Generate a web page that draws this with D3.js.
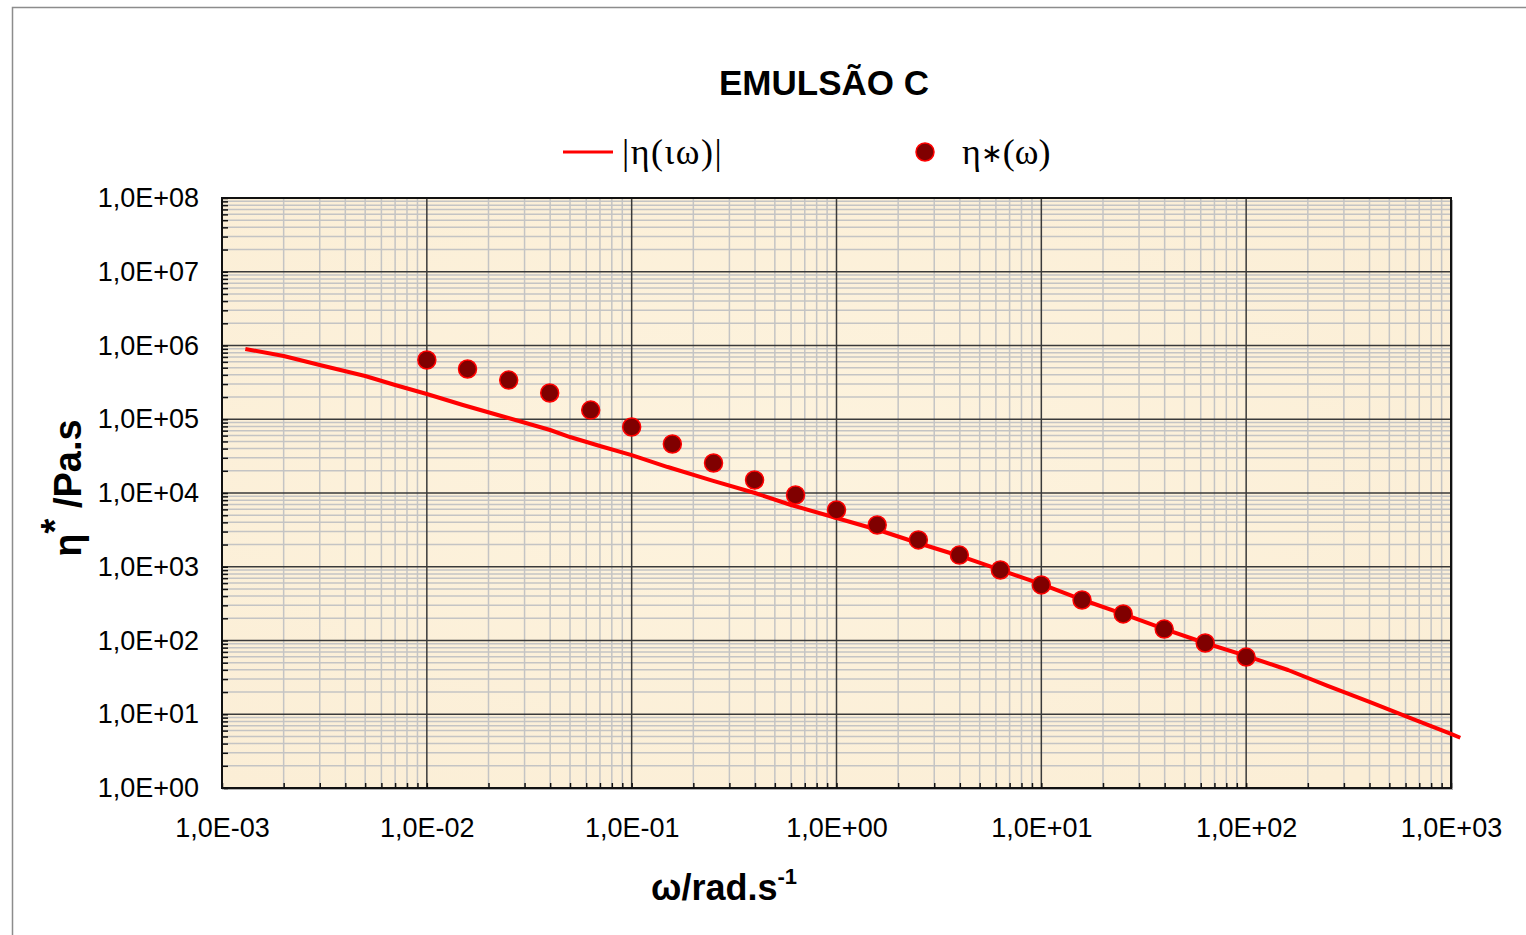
<!DOCTYPE html>
<html>
<head>
<meta charset="utf-8">
<script src="https://cdnjs.cloudflare.com/ajax/libs/d3/7.8.5/d3.min.js"></script>
<style>
  body { margin: 0; background: #fff; }
  svg { display: block; }
</style>
</head>
<body>
<svg id="chart" width="1526" height="935"></svg>
<script>
// |eta(i omega)| curve
var lineW = [0.0013, 0.002, 0.003, 0.005, 0.007, 0.01, 0.015, 0.025, 0.04, 0.05, 0.07, 0.1,
             0.15, 0.25, 0.4, 0.6, 1, 1.6, 2.5, 4, 6.3, 10, 16, 25, 40, 63, 100, 160, 250, 400,
             630, 1000, 1110];
var lineEta = [8.97e5, 7.2e5, 5.45e5, 3.86e5, 2.91e5, 2.2e5, 1.56e5, 1.04e5, 7.15e4, 5.74e4,
               4.34e4, 3.27e4, 2.25e4, 1.46e4, 1.0e4, 6.88e3, 4.58e3, 3.15e3, 2.1e3, 1.4e3,
               904, 583, 354, 229, 143, 92.5, 61.7, 39.8, 24.2, 14.7, 8.9, 5.4, 4.8];

// eta*(omega) measured points
var pointW = [0.01, 0.0158, 0.0251, 0.0398, 0.0631, 0.1, 0.158, 0.251, 0.398, 0.631, 1,
              1.58, 2.51, 3.98, 6.31, 10, 15.8, 25.1, 39.8, 63.1, 100];
var pointEta = [6.36e5, 4.8e5, 3.4e5, 2.27e5, 1.33e5, 7.85e4, 4.62e4, 2.55e4, 1.5e4, 9.4e3,
                5.88e3, 3.68e3, 2.31e3, 1.44e3, 904, 566, 354, 229, 143, 92.5, 59.7];

var xDecades = [1e-3, 1e-2, 1e-1, 1e0, 1e1, 1e2, 1e3];
var yDecades = [1e0, 1e1, 1e2, 1e3, 1e4, 1e5, 1e6, 1e7, 1e8];

var svg = d3.select("#chart");

var pLeft = 222, pRight = 1451, pTop = 198, pBottom = 788;

var x = d3.scaleLog().domain([1e-3, 1e3]).range([pLeft, pRight]);
var y = d3.scaleLog().domain([1, 1e8]).range([pBottom, pTop]);

function sci(v) {
  var e = Math.round(Math.log10(v));
  var s = Math.abs(e) < 10 ? "0" + Math.abs(e) : "" + Math.abs(e);
  return "1,0E" + (e < 0 ? "-" : "+") + s;
}

var sans = "Arial, 'Liberation Sans', sans-serif";

// outer chart border
svg.append("path")
   .attr("d", "M12.5,935 L12.5,7.5 L1526,7.5")
   .attr("fill", "none")
   .attr("stroke", "#8c8c8c")
   .attr("stroke-width", 1.5);

// plot area background, parchment-ish
var defs = svg.append("defs");
var grad = defs.append("radialGradient").attr("id", "parch")
   .attr("cx", "45%").attr("cy", "45%").attr("r", "70%");
grad.append("stop").attr("offset", "0%").attr("stop-color", "#fdf3de");
grad.append("stop").attr("offset", "100%").attr("stop-color", "#fbeed6");

svg.append("rect")
   .attr("x", pLeft + 2).attr("y", pTop + 2)
   .attr("width", pRight - pLeft).attr("height", pBottom - pTop)
   .attr("fill", "#b0b0b0");
svg.append("rect")
   .attr("x", pLeft).attr("y", pTop)
   .attr("width", pRight - pLeft).attr("height", pBottom - pTop)
   .attr("fill", "url(#parch)");

var grid = svg.append("g");
var minorX = x.ticks().filter(function(d) { return xDecades.indexOf(d) < 0; });
var minorY = y.ticks().filter(function(d) { return yDecades.indexOf(d) < 0; });

grid.selectAll(".gx").data(minorX).enter().append("line")
    .attr("x1", function(d) { return x(d); }).attr("x2", function(d) { return x(d); })
    .attr("y1", pTop).attr("y2", pBottom)
    .attr("stroke", "#c4c4c4").attr("stroke-width", 1.5);
grid.selectAll(".gy").data(minorY).enter().append("line")
    .attr("y1", function(d) { return y(d); }).attr("y2", function(d) { return y(d); })
    .attr("x1", pLeft).attr("x2", pRight)
    .attr("stroke", "#c4c4c4").attr("stroke-width", 1.5);
grid.selectAll(".mx").data(xDecades).enter().append("line")
    .attr("x1", function(d) { return x(d); }).attr("x2", function(d) { return x(d); })
    .attr("y1", pTop).attr("y2", pBottom)
    .attr("stroke", "#3a3a3a").attr("stroke-width", 1.5);
grid.selectAll(".my").data(yDecades).enter().append("line")
    .attr("y1", function(d) { return y(d); }).attr("y2", function(d) { return y(d); })
    .attr("x1", pLeft).attr("x2", pRight)
    .attr("stroke", "#3a3a3a").attr("stroke-width", 1.5);

// frame
svg.append("rect")
   .attr("x", pLeft).attr("y", pTop)
   .attr("width", pRight - pLeft).attr("height", pBottom - pTop)
   .attr("fill", "none").attr("stroke", "#111").attr("stroke-width", 2);

// inside ticks
svg.append("g")
   .attr("transform", "translate(" + pLeft + ",0)")
   .call(d3.axisLeft(y).tickValues(y.ticks()).tickSize(-6).tickFormat(""))
   .call(function(g) { g.select(".domain").remove(); g.selectAll("line").attr("stroke", "#111").attr("stroke-width", 1.5); });
svg.append("g")
   .attr("transform", "translate(0," + pBottom + ")")
   .call(d3.axisBottom(x).tickValues(x.ticks()).tickSize(-5).tickFormat(""))
   .call(function(g) { g.select(".domain").remove(); g.selectAll("line").attr("stroke", "#111").attr("stroke-width", 1.5); });

// tick labels
svg.append("g")
   .attr("transform", "translate(" + pLeft + ",0)")
   .call(d3.axisLeft(y).tickValues(yDecades).tickSize(0).tickPadding(23).tickFormat(sci))
   .call(function(g) {
     g.select(".domain").remove();
     g.selectAll("text").attr("font-family", sans).attr("font-size", 27).attr("fill", "#000");
   });
svg.append("g")
   .attr("transform", "translate(0," + pBottom + ")")
   .call(d3.axisBottom(x).tickValues(xDecades).tickSize(0).tickPadding(30).tickFormat(sci))
   .call(function(g) {
     g.select(".domain").remove();
     g.selectAll("text").attr("font-family", sans).attr("font-size", 27).attr("fill", "#000");
   });

// series
var line = d3.line()
    .x(function(d) { return x(d[0]); })
    .y(function(d) { return y(d[1]); });

svg.append("path")
   .datum(d3.zip(lineW, lineEta))
   .attr("d", line)
   .attr("fill", "none")
   .attr("stroke", "#ff0000")
   .attr("stroke-width", 4)
   .attr("stroke-linejoin", "round");

svg.selectAll(".pt").data(d3.zip(pointW, pointEta)).enter().append("circle")
   .attr("cx", function(d) { return x(d[0]); })
   .attr("cy", function(d) { return y(d[1]); })
   .attr("r", 9)
   .attr("fill", "#800000")
   .attr("stroke", "#ff0000")
   .attr("stroke-width", 1.5);

// title
svg.append("text")
   .attr("x", 824).attr("y", 95)
   .attr("text-anchor", "middle")
   .attr("font-family", sans)
   .attr("font-weight", "bold").attr("font-size", 35)
   .text("EMULSÃO C");

// legend
var serif = "'Times New Roman', 'Liberation Serif', serif";
svg.append("line")
   .attr("x1", 563).attr("x2", 613).attr("y1", 152).attr("y2", 152)
   .attr("stroke", "#ff0000").attr("stroke-width", 3);
svg.append("text")
   .attr("x", 622).attr("y", 164)
   .attr("font-family", serif).attr("font-size", 36)
   .attr("letter-spacing", 1.5)
   .text("|η(ιω)|");
svg.append("circle")
   .attr("cx", 925).attr("cy", 152).attr("r", 9)
   .attr("fill", "#800000").attr("stroke", "#ff0000").attr("stroke-width", 1.5);
var lt = svg.append("text")
   .attr("x", 962).attr("y", 164)
   .attr("font-family", serif).attr("font-size", 36);
lt.append("tspan").text("η");
lt.append("tspan").attr("font-size", 26).attr("dy", -2).text("∗");
lt.append("tspan").attr("dy", 2).text("(ω)");

// axis titles
var yt = svg.append("text")
   .attr("transform", "translate(81,488) rotate(-90)")
   .attr("text-anchor", "middle")
   .attr("font-family", sans)
   .attr("font-weight", "bold").attr("font-size", 38);
yt.append("tspan").text("η");
yt.append("tspan").attr("dy", -13).text("*");
yt.append("tspan").attr("dy", 13).text(" /Pa.s");

var xt = svg.append("text")
   .attr("x", 651).attr("y", 900)
   .attr("font-family", sans)
   .attr("font-weight", "bold").attr("font-size", 36);
xt.append("tspan").text("ω/rad.s");
xt.append("tspan").attr("dy", -16).attr("font-size", 22).text("-1");
</script>
</body>
</html>
